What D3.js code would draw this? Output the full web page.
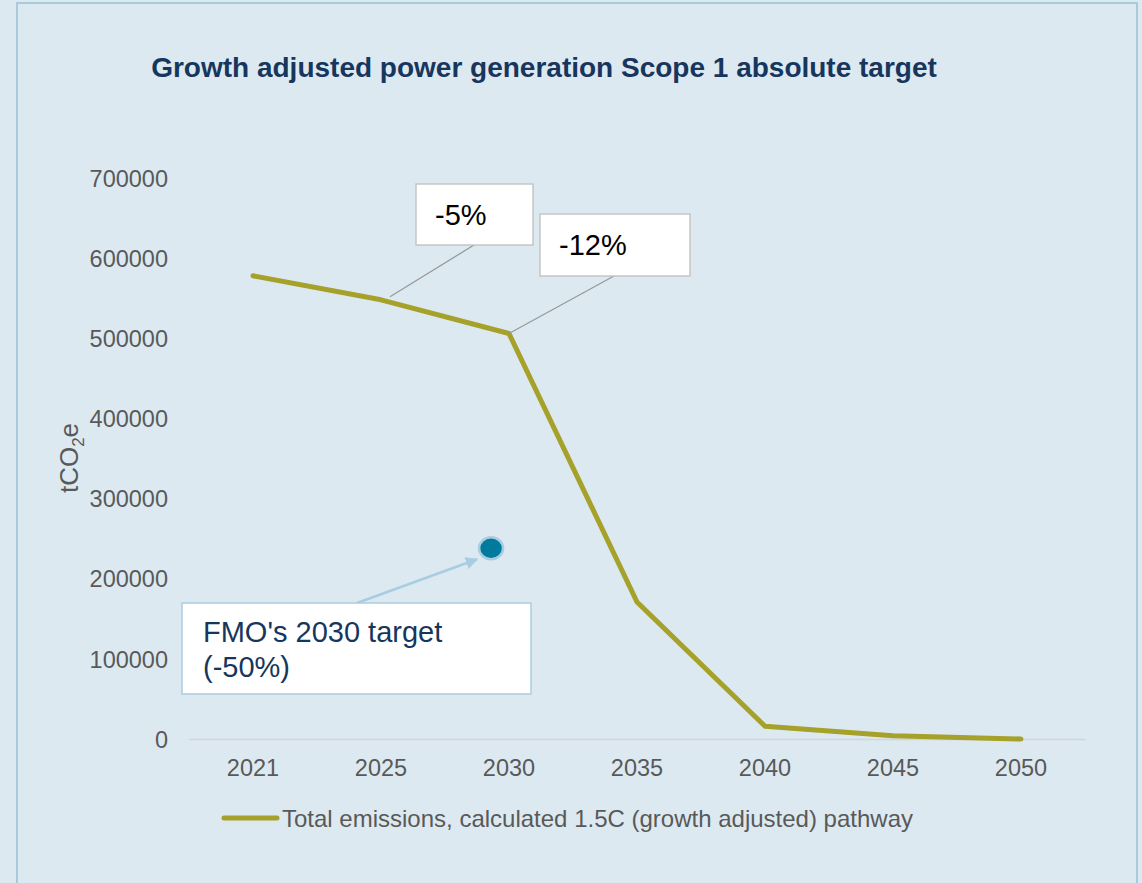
<!DOCTYPE html>
<html lang="en">
<head>
<meta charset="UTF-8">
<title>Growth adjusted power generation Scope 1 absolute target</title>
<script src="https://d3js.org/d3.v7.min.js"></script>
<style>
  body { margin: 0; background: #dde9f1; }
  svg { display: block; font-family: "Liberation Sans", Arial, sans-serif; }
  .axis text { fill: #595959; font-size: 23.5px; }
</style>
</head>
<body>
<script>
// data
var years = ["2021", "2025", "2030", "2035", "2040", "2045", "2050"];
var emissions = [578000, 548000, 506000, 171000, 16000, 4000, 0];
var yTicks = [0, 100000, 200000, 300000, 400000, 500000, 600000, 700000];
var targetValue = 238000;
var seriesName = "Total emissions, calculated 1.5C (growth adjusted) pathway";
var title = "Growth adjusted power generation Scope 1 absolute target";

var width = 1142, height = 883;
var plot = { left: 189, right: 1085, top: 178, bottom: 739 };

var svg = d3.select("body").append("svg")
    .attr("width", width)
    .attr("height", height);

svg.append("rect")
    .attr("x", 17).attr("y", 3)
    .attr("width", 1120).attr("height", 900)
    .attr("fill", "#dde9f1")
    .attr("stroke", "#a9c9dd")
    .attr("stroke-width", 2);

var x = d3.scaleBand().domain(years).range([plot.left, plot.right]);
var y = d3.scaleLinear().domain([0, 700000]).range([plot.bottom, plot.top]);

// title
svg.append("text")
    .attr("x", 544).attr("y", 77)
    .attr("text-anchor", "middle")
    .attr("font-size", 28).attr("font-weight", "bold")
    .attr("fill", "#17365d")
    .text(title);

// y axis
var yAxis = svg.append("g").attr("class", "axis")
    .attr("transform", "translate(" + plot.left + ",0)")
    .call(d3.axisLeft(y).tickValues(yTicks).tickFormat(d3.format("d")).tickSize(0).tickPadding(21));
yAxis.select(".domain").remove();
yAxis.selectAll("text").attr("dy", "0.35em");

// x axis
var xAxis = svg.append("g").attr("class", "axis")
    .attr("transform", "translate(0," + plot.bottom + ")")
    .call(d3.axisBottom(x).tickSize(0).tickPadding(20));
xAxis.select(".domain").attr("stroke", "#d4d4d4").attr("stroke-width", 1.5);

// y axis title
var yt = svg.append("text")
    .attr("transform", "translate(78,458) rotate(-90)")
    .attr("text-anchor", "middle")
    .attr("font-size", 26).attr("fill", "#595959");
yt.append("tspan").text("tCO");
yt.append("tspan").attr("font-size", 17).attr("dy", 6).text("2");
yt.append("tspan").attr("dy", -6).text("e");

// line
var cx = function(d) { return x(d) + x.bandwidth() / 2; };
var line = d3.line()
    .x(function(d, i) { return cx(years[i]); })
    .y(function(d) { return y(d); });
svg.append("path")
    .datum(emissions)
    .attr("d", line)
    .attr("fill", "none")
    .attr("stroke", "#a5a12a")
    .attr("stroke-width", 5)
    .attr("stroke-linejoin", "round")
    .attr("stroke-linecap", "round");

// callouts -5% and -12%
function callout(bx, by, bw, bh, label, px, py, ax) {
    svg.append("line")
        .attr("x1", ax).attr("y1", by + bh)
        .attr("x2", px).attr("y2", py)
        .attr("stroke", "#999").attr("stroke-width", 1.3);
    svg.append("rect")
        .attr("x", bx).attr("y", by).attr("width", bw).attr("height", bh)
        .attr("fill", "#fff").attr("stroke", "#bfbfbf").attr("stroke-width", 1.3);
    svg.append("text")
        .attr("x", bx + 19).attr("y", by + 41)
        .attr("font-size", 29).attr("fill", "#000")
        .text(label);
}
callout(416, 184, 117, 61, "-5%", cx("2025") + 9, y(emissions[1]) - 3, 474);
callout(540, 214, 150, 62, "-12%", cx("2030"), y(emissions[2]), 614);

// target point
var tx = cx("2030") - x.step() * 0.14, ty = y(targetValue);
svg.append("defs").append("marker")
    .attr("id", "arr").attr("viewBox", "0 0 10 10")
    .attr("refX", 9).attr("refY", 5)
    .attr("markerWidth", 5).attr("markerHeight", 5)
    .attr("orient", "auto")
    .append("path").attr("d", "M0,0L10,5L0,10z").attr("fill", "#a9cde0");
svg.append("line")
    .attr("x1", 357).attr("y1", 603)
    .attr("x2", tx - 14).attr("y2", ty + 11)
    .attr("stroke", "#a9cde0").attr("stroke-width", 2.5)
    .attr("marker-end", "url(#arr)");
svg.append("ellipse")
    .attr("cx", tx).attr("cy", ty).attr("rx", 12).attr("ry", 11)
    .attr("fill", "#007b9e").attr("stroke", "#a9cde0").attr("stroke-width", 2.5);

svg.append("rect")
    .attr("x", 182).attr("y", 603).attr("width", 349).attr("height", 91)
    .attr("fill", "#fff").attr("stroke", "#a9cde0").attr("stroke-width", 1.5);
svg.append("text").attr("x", 203).attr("y", 642)
    .attr("font-size", 29).attr("fill", "#17365d").text("FMO's 2030 target");
svg.append("text").attr("x", 203).attr("y", 677)
    .attr("font-size", 29).attr("fill", "#17365d").text("(-50%)");

// legend
svg.append("line")
    .attr("x1", 224).attr("y1", 818).attr("x2", 277).attr("y2", 818)
    .attr("stroke", "#a5a12a").attr("stroke-width", 5).attr("stroke-linecap", "round");
svg.append("text")
    .attr("x", 282).attr("y", 827)
    .attr("font-size", 24).attr("fill", "#595959")
    .text(seriesName);
</script>
</body>
</html>
